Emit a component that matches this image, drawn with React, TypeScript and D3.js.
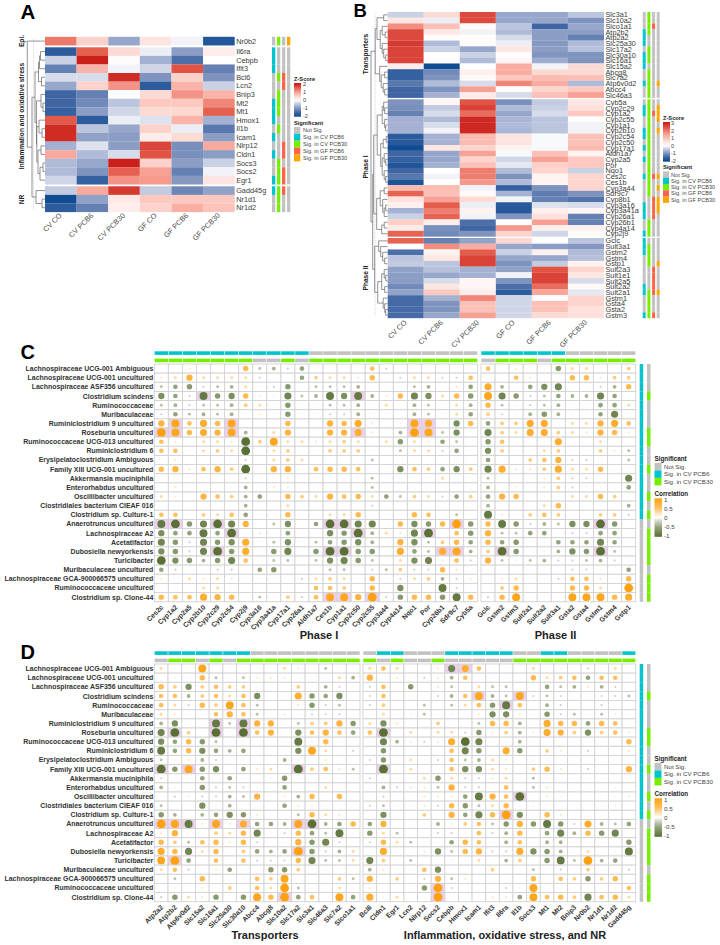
import React from "react";
import * as d3 from "d3";

const FONT = "'Liberation Sans', Arial, sans-serif";

// ---------- heatmap data ----------
const heatColumns = ["CV CO", "CV PCB6", "CV PCB30", "GF CO", "GF PCB6", "GF PCB30"];

const genesA = [
  ["Nr0b2"],
  ["Il6ra", "Cebpb", "Ifit3", "Bcl6", "Lcn2", "Bnip3", "Mt2", "Mt1", "Hmox1", "Il1b", "Icam1", "Nlrp12", "Cldn1", "Socs3", "Socs2", "Egr1"],
  ["Gadd45g", "Nr1d1", "Nr1d2"],
];
const zScoresA = [
  [1.3, 0.5, -0.8, 0.3, -0.1, -1.8],
  [-1.7, 1.5, 0.4, -0.15, -0.9, 0.2],
  [-0.4, 2.0, 0.05, -0.7, -1.4, 0],
  [-1.2, 0.8, -0.1, -0.35, 1.6, -1.2],
  [-0.3, -0.3, 1.9, -1.0, 0.5, -1.0],
  [-0.8, 0.5, 1.1, -1.7, 0.8, -0.4],
  [-1.5, -1.2, 0, 0.4, 1.1, 0.8],
  [-1.5, -1.1, -0.5, 0.6, 0.6, 1.2],
  [-1.6, -0.9, -0.35, 0.4, 0.45, 1.5],
  [1.55, -1.7, -0.15, -0.25, 0.8, -0.7],
  [1.9, -0.5, -0.8, 0.5, -0.15, -1.3],
  [1.9, -0.85, -0.9, 0.2, 0.4, -0.9],
  [-0.7, -0.25, -0.9, 1.7, -1.05, 0.9],
  [0.9, -0.6, -0.3, 1.6, -1.05, -0.9],
  [-0.6, -0.8, 2.0, 0.5, -0.9, -0.4],
  [-0.6, -1.0, 1.5, 1.0, -1.2, -0.1],
  [-0.35, -1.6, 1.1, 1.05, -0.95, 0.3],
  [-0.45, 0.9, 1.8, -0.45, -1.15, -0.85],
  [-2, -0.85, 0.25, 0.6, 0.6, 0.6],
  [-1.7, -1.2, 0.2, 0.5, 0.85, 0.65],
];
const sigA = ["0101", "1000", "1000", "1000", "0110", "0010", "0100", "1100", "1100", "1000", "0100", "1000", "0010", "1010", "0100", "0110", "1110", "1110", "0100", "0100"];
const treeA: any = [17.7, "Nr0b2", [13,
  [10,
    [6.5, [5.5, [4.5, "Il6ra", "Cebpb"], "Ifit3"], [3.5, "Bcl6", "Lcn2"]],
    [8.5, [4, "Bnip3", [2, "Mt2", "Mt1"]], [8.2, [6, "Hmox1", [3, "Il1b", "Icam1"]], [7, [4, "Nlrp12", "Cldn1"], [5, [2, "Socs3", "Socs2"], "Egr1"]]]]],
  [9, "Gadd45g", [3, "Nr1d1", "Nr1d2"]]]];

const genesB = [
  ["Slc3a1", "Slc10a2", "Slco1a1", "Atp2b2", "Atp2a2", "Slc25a30", "Slc17a2", "Slc30a10", "Slc16a1", "Slc15a2", "Abcg8", "Slc7a2", "Atp6v0d2", "Abcc4", "Slc46a3"],
  ["Cyb5a", "Cyp2c29", "Cyp1a2", "Cyp2c55", "Cyp1a1", "Cyp2b10", "Cyp2c54", "Cyp2c50", "Cyp17a1", "Aldh1a7", "Cyp2a5", "Por", "Nqo1", "Ces2c", "Ces1b", "Cyp3a44", "Sdr9c7", "Cyp8b1", "Cyp3a16", "Cyp3a41a", "Cyp26a1", "Cyp26b1", "Cyp4a14", "Cyp2j9"],
  ["Gclc", "Sult3a1", "Gstm2", "Gstm4", "Gstp1", "Sult2a3", "Sult1e1", "Sult2a5", "Sult2a2", "Sult2a1", "Gstm1", "Gsta4", "Gsta2", "Gstm3"],
];
const zScoresB = [
  [-0.4, 0.6, 2.5, -0.8, -0.8, -0.5],
  [0.4, -0.15, 2.5, -0.8, -0.8, -1.0],
  [1.7, 1.0, 0.1, -0.5, -1.5, -0.8],
  [2.5, 0.4, -0.1, -0.6, -0.9, -0.9],
  [2.5, 0.05, 0.05, -0.3, -0.9, -1.2],
  [2.7, -0.6, 0.05, -0.15, -0.95, -0.6],
  [2.6, -0.4, -0.8, 0.4, -0.9, -0.55],
  [2.6, 0.03, -0.4, 0.03, -1.0, -1.0],
  [2.6, 0.03, -0.6, 0.15, -0.75, -1.0],
  [0.3, -2.0, 0.0, 1.3, -0.1, 0.6],
  [-1.6, -1.1, 0.25, 1.3, 0.6, 0.6],
  [-1.6, -1.0, 0.1, 0.9, 1.1, 1.0],
  [-1.3, -0.6, -0.3, 1.8, 1.3, -0.6],
  [-1.5, -1.0, 1.5, 0.05, 0.7, 0.9],
  [-1.5, -0.7, 0.35, -0.3, 1.0, 1.5],
  [-1.0, 0.15, 2.4, -1.05, -0.45, 0.4],
  [-1.05, -0.45, 2.6, -0.6, -0.4, 0.5],
  [-1.2, -0.3, 2.1, -0.8, -0.3, 0.9],
  [-0.7, -0.6, 2.9, -0.65, -0.5, 0.05],
  [-0.7, -0.3, 2.9, -0.6, -0.5, -0.1],
  [-0.7, -0.1, 2.9, -0.65, -0.5, -0.1],
  [-1.7, -0.7, 1.1, 0.45, -0.05, 1.0],
  [-1.75, -0.7, 1.1, 0.45, -0.05, 1.0],
  [-2.0, 0.4, 0.7, 0.2, -0.05, 1.1],
  [-1.5, -0.8, 1.5, -0.05, 1.0, 0.2],
  [-1.6, -0.8, 0.7, -0.35, 1.5, 0.9],
  [-1.8, -0.7, 1.0, -0.2, 0.8, 0.9],
  [-1.5, 0.0, 1.9, -0.6, 0.7, -0.4],
  [-1.3, -0.1, 1.9, -1.0, 0.2, 0.7],
  [-1.85, 0.02, 1.6, -0.6, 0.2, 0.7],
  [1.1, 1.1, -0.1, -1.6, -1.0, 0.7],
  [2.2, 1.0, 0.1, -0.7, -1.25, -1.0],
  [0.5, 1.5, 0.6, -0.1, -1.2, -1.35],
  [0.25, 2.3, -0.15, -1.75, -0.25, -0.3],
  [-0.7, 1.9, 0.2, -1.75, 0.25, 0.15],
  [-0.4, 2.2, -0.1, -1.0, 0.5, -1.2],
  [0.8, 0.3, -1.4, 0.0, 1.5, -1.2],
  [0.35, -1.05, -1.5, 1.6, 0.25, 0.25],
  [2.2, -1.1, -1.0, 0.7, -0.35, 0.05],
  [2.2, -1.2, -0.85, 0.65, 0.02, -0.5],
  [0.0, 1.7, 1.3, -0.8, -0.9, -0.95],
  [-1.4, 0.2, 2.3, -0.4, 0.25, -0.6],
  [-0.5, 0.4, 2.6, -0.8, -0.8, -0.55],
  [-0.45, -0.5, 2.6, -1.0, -0.45, 0.2],
  [-0.85, -0.55, -0.7, -0.85, 2.4, 0.7],
  [-0.9, -0.8, -0.7, -0.1, 2.6, 0.4],
  [-0.9, -0.3, 0.15, -1.0, 2.6, -0.3],
  [-1.1, 0.4, 0.15, -1.4, 2.1, 0.1],
  [-0.85, 0.9, 0.3, -1.7, 1.4, -0.2],
  [-1.45, -0.7, 1.8, -0.35, 0.05, 0.7],
  [-1.45, -1.0, 1.0, -0.35, 1.0, 0.7],
  [-1.45, -1.0, 1.0, -0.35, 1.0, 0.5],
  [-1.45, -0.8, 1.5, -0.35, 0.6, 0.5],
];
const sigB = ["0100", "0100", "0110", "1100", "1000", "1000", "0100", "1100", "1100", "1000", "0100", "0100", "1101", "0100", "0100",
  "0100", "1101", "1111", "0101", "0100", "1101", "1100", "0100", "1100", "0100", "1100", "0100", "0100", "1111", "0100", "0101", "0100", "0011", "1011", "1011", "1010", "0100", "0100", "1100",
  "1000", "1100", "1100", "0100", "0101", "0010", "0010", "0010", "1010", "1111", "0100", "0100", "0100", "1110"];
const treeB: any = [16.7,
  [12.5,
    [10.7, [4, "Slc3a1", "Slc10a2"], [7.5, [5.5, "Slco1a1", [2.5, "Atp2b2", "Atp2a2"]], [5.5, "Slc25a30", [4, "Slc17a2", [2, "Slc30a10", "Slc16a1"]]]]],
    [8, "Slc15a2", [6.5, [3, "Abcg8", "Slc7a2"], [4.5, "Atp6v0d2", [3, "Abcc4", "Slc46a3"]]]]],
  [15,
    [14,
      [10.5, [5.5, [4, "Cyb5a", [3, "Cyp2c29", "Cyp1a2"]], [3, "Cyp2c55", [2, "Cyp1a1", "Cyp2b10"]]],
        [7, [4.5, [1.5, "Cyp2c54", "Cyp2c50"], "Cyp17a1"], [5.5, [3.5, "Aldh1a7", [2, "Cyp2a5", "Por"]], [3.5, "Nqo1", [2, "Ces2c", "Ces1b"]]]]],
      [11, [7.5, [3.5, "Cyp3a44", "Sdr9c7"], [5, "Cyp8b1", [3.5, [2, "Cyp3a16", "Cyp3a41a"], "Cyp26a1"]]], [6, [3.5, "Cyp26b1", "Cyp4a14"], "Cyp2j9"]]],
    [13,
      [9, "Gclc", [7, "Sult3a1", [5, "Gstm2", [3, "Gstm4", "Gstp1"]]]],
      [10, [6, [3.5, "Sult2a3", [2, "Sult1e1", "Sult2a5"]], [3, "Sult2a2", "Sult2a1"]], [4.5, "Gstm1", [3, "Gsta4", [2, "Gsta2", "Gstm3"]]]]]]];

// ---------- correlation data (tenths of r) ----------
const taxa = [
  "Lachnospiraceae UCG-001 Ambiguous", "Lachnospiraceae UCG-001 uncultured", "Lachnospiraceae ASF356 uncultured", "Clostridium scindens",
  "Ruminococcaceae", "Muribaculaceae", "Ruminiclostridium 9 uncultured", "Roseburia uncultured", "Ruminococcaceae UCG-013 uncultured",
  "Ruminiclostridium 6", "Erysipelatoclostridium Ambiguous", "Family XIII UCG-001 uncultured", "Akkermansia muciniphila", "Enterorhabdus uncultured",
  "Oscillibacter uncultured", "Clostridiales bacterium CIEAF 016", "Clostridium sp. Culture-1", "Anaerotruncus uncultured", "Lachnospiraceae A2",
  "Acetatifactor", "Dubosiella newyorkensis", "Turicibacter", "Muribaculaceae uncultured", "Lachnospiraceae GCA-900066575 uncultured",
  "Ruminococcaceae uncultured", "Clostridium sp. Clone-44",
];
const taxaSigPcb6 = "11111111111111111000000000";
const taxaSigPcb30 = "00010001100100101011110111";

const phase1Genes = ["Ces2c", "Cyp1a2", "Cyp2a5", "Cyp2b10", "Cyp2c29", "Cyp2c54", "Cyp2j9", "Cyp3a16", "Cyp3a41a", "Cyp17a1", "Cyp26a1", "Aldh1a7", "Ces1b", "Cyp1a1", "Cyp2c50", "Cyp2c55", "Cyp3a44", "Cyp4a14", "Nqo1", "Por", "Cyp26b1", "Sdr9c7", "Cyb5a"];
const phase1Pcb6 = "11111111111000000000000";
const phase1Pcb30 = "11111110010111111111111";
const phase1Corr = [
  [1, 0, 2, 0, 0, 0, 6, -3, -4, -2, -5, 1, 0, 0, 0, 5, -2, 0, 1, 0, 0, 0, 0],
  [2, 3, 7, 3, 3, 3, 3, -2, 1, 1, -5, 4, 3, 3, 2, 6, 1, -2, 3, 3, -2, -2, 5],
  [-3, -5, -6, -2, -3, -4, 3, 1, -2, -6, 0, -3, -3, -3, -4, 0, 0, 1, -3, -4, 0, 2, -5],
  [-7, -5, -2, -9, -6, -7, 6, 2, -1, -8, -3, -4, -9, -7, -9, -4, 2, 6, -8, -7, 3, 6, -6],
  [-3, -4, -2, -3, -3, -4, 4, 3, 0, -6, 0, 0, -3, -3, -4, 0, 3, 0, -4, -3, 0, 3, -4],
  [-2, -5, -3, -4, -3, -4, 0, 2, 0, -6, 0, 0, -2, -2, -4, 0, 0, 0, -4, -3, 0, 3, -5],
  [7, 9, 5, 8, 6, 9, 0, 0, 0, 6, 0, 0, 7, 6, 8, 2, 0, -1, 9, 8, -1, -7, 6],
  [10, 9, 6, 8, 7, 9, -4, 0, 3, 7, 0, 0, 7, 7, 8, 2, 0, -4, 10, 9, -3, -7, 0],
  [5, 2, 0, 3, 3, 2, -10, 4, 9, 3, 3, 2, 3, 4, 3, 0, 3, -6, 3, 2, -5, -3, 0],
  [5, 5, 1, 3, 4, 3, -10, 0, 3, 4, 0, 1, 4, 4, 4, 1, 0, -3, 3, 3, -2, -5, 1],
  [0, 2, 0, 0, 1, 1, -2, 1, 3, 4, 3, 0, 0, 0, 1, -3, 1, 0, 1, 1, 1, 1, 0],
  [6, 7, 2, 5, 7, 4, -10, 0, 7, 7, 1, 5, 6, 6, 5, 0, 0, -7, 5, 4, -5, -7, 4],
  [0, 1, 0, 0, 0, 0, -2, 1, 1, 2, 1, 0, 0, 0, 0, -3, 1, 1, 0, 0, 3, 0, 0],
  [1, 2, 0, 0, 0, 1, -4, 0, 2, 2, 0, 1, 0, 0, 0, -3, 1, 0, 0, 0, 1, 0, 0],
  [3, 2, 0, 7, 5, 4, -4, -5, 1, 6, 4, 3, 7, 5, 6, 3, -5, -3, 4, 3, -2, -5, 4],
  [0, 1, 0, 0, 0, 0, -4, 0, 1, 3, 1, 0, 0, 0, 0, -2, 0, 0, 0, 0, 0, 0, 0],
  [5, 5, 1, 4, 3, 5, -5, 1, 0, 6, 0, 0, 3, 3, 6, 0, 1, 1, 6, 5, 0, -3, 1],
  [-9, -10, -6, -8, -10, -8, 7, 1, -3, -7, 1, -5, -10, -10, -8, -8, 0, 6, -7, -6, 6, 10, -6],
  [-7, -5, -5, -9, -5, -10, 1, 2, 0, -5, 0, 1, -7, -6, -10, -4, 3, 2, -8, -10, 1, 5, -6],
  [-8, -6, -2, -8, -6, -7, 8, 0, -3, -7, 0, -3, -5, -6, -7, -4, 1, 7, -7, -3, 4, 6, -5],
  [-7, -6, -2, -8, -10, -6, 8, 0, -6, -8, 0, -6, -10, -10, -6, -6, 1, 8, -5, -3, 8, 9, -4],
  [-10, -7, -6, -4, -6, -8, 5, 0, -3, -3, 1, -3, -7, -8, -6, -3, 0, 3, -7, -8, 2, 5, -2],
  [-5, -2, 1, 1, -2, -2, 1, -5, -6, 0, 0, 0, -3, -3, 1, -2, -3, 4, -2, -2, 6, 2, 0],
  [2, 1, 3, 2, 3, 2, 1, 1, 0, 0, -2, 3, 4, 3, 1, 6, -1, -2, 3, 4, -4, -2, 2],
  [1, 0, 0, 3, 3, 1, 0, 0, 0, 1, 0, 5, 5, 4, 1, 6, 0, -7, 1, 1, -9, -2, 1],
  [6, 5, 5, 8, 7, 6, 0, -3, 0, 4, -2, 5, 9, 9, 7, 10, -2, -6, 6, 6, -6, -9, 6],
];
const phase1Marked: [number, string][] = [[3, "Cyp2b10"], [3, "Cyp2c50"], [6, "Cyp1a2"], [6, "Cyp2c54"], [7, "Ces2c"], [7, "Cyp1a2"], [7, "Cyp2c54"], [7, "Cyp2c50"], [17, "Ces2c"], [17, "Cyp1a2"], [17, "Cyp2c29"], [17, "Ces1b"], [17, "Cyp1a1"], [18, "Cyp2c54"], [18, "Cyp2c50"], [20, "Cyp2c29"], [20, "Ces1b"], [20, "Cyp1a1"], [25, "Ces1b"], [25, "Cyp1a1"], [25, "Cyp2c55"], [6, "Nqo1"], [6, "Por"], [7, "Nqo1"], [7, "Por"], [17, "Sdr9c7"], [18, "Por"], [20, "Cyp26b1"], [20, "Sdr9c7"]];

const phase2Genes = ["Gclc", "Gstm2", "Gstm3", "Sult2a1", "Sult2a2", "Sult3a1", "Gsta2", "Gsta4", "Gstm1", "Gstm4", "Gstp1"];
const phase2Pcb6 = "11111100000";
const phase2Pcb30 = "01110111111";
const phase2Corr = [
  [5, 0, 2, 0, 1, -6, 3, 3, 0, 0, 4],
  [0, 1, 5, 2, 1, 1, 6, 6, 2, 4, 4],
  [8, -4, 0, -5, -7, -8, 0, 0, -2, -4, 6],
  [9, -8, -6, -2, -3, -5, -4, -4, -8, -5, 1],
  [6, -3, -1, -2, -3, -4, 0, 0, -5, -5, 3],
  [4, -2, -1, -4, -6, -4, -1, -1, -5, -8, 0],
  [-5, 4, 4, 8, 8, 1, 3, 3, 7, 8, 5],
  [-8, 4, 3, 8, 8, 4, 3, 2, 7, 6, 2],
  [-6, 5, 1, 0, 1, 8, 0, 0, 3, 0, 0],
  [-7, 4, 1, 1, 3, 4, 1, 1, 4, 2, -3],
  [-5, 1, 1, 4, 5, 7, -2, -2, 1, 1, -3],
  [-8, 8, 2, 2, 4, 8, 3, 3, 6, 0, 0],
  [-3, 0, 1, 1, 2, 4, -2, -2, 1, 1, -8],
  [-4, 0, -1, 1, 2, 4, -2, -1, 1, 0, -5],
  [-5, 7, 6, 0, 1, 1, 3, 3, 6, 4, 1],
  [-4, 1, 0, 1, 3, 6, 1, 1, 1, 0, -4],
  [-9, 2, 1, 4, 5, 4, 0, 0, 4, 4, -2],
  [6, -9, -6, -2, -4, -3, -7, -7, -10, -6, 0],
  [7, -3, -3, -5, -5, 0, -2, -2, -5, -5, 1],
  [6, -5, -6, 0, -1, -5, -5, -5, -8, -5, 1],
  [4, -10, -6, 1, -1, -4, -7, -6, -10, -3, 0],
  [7, -3, -1, -3, -4, -2, -2, -3, -4, -2, 0],
  [0, 1, 0, 1, 0, 0, -2, -2, 1, 0, -5],
  [0, 2, 3, 0, 1, -2, 5, 5, 2, 1, 6],
  [0, 4, 6, 0, 1, 0, 6, 6, 3, 0, 10],
  [-2, 6, 9, 1, 1, 0, 9, 9, 9, 6, 8],
];
const phase2Marked: [number, string][] = [[17, "Gstm1"], [20, "Gstm2"], [20, "Gstm1"]];

const transGenes = ["Atp2a2", "Atp2b2", "Atp6v0d2", "Slc15a2", "Slc16a1", "Slc25a30", "Slc30a10", "Abcc4", "Abcg8", "Slc10a2", "Slc17a2", "Slc3a1", "Slc46a3", "Slc7a2", "Slco1a1"];
const transPcb6 = "111111100000000";
const transPcb30 = "011010111111111";
const transCorr = [
  [3, 0, 1, 9, 0, 0, 0, 1, 0, 3, 2, 1, -3, 1, 1],
  [0, -1, 1, 6, -3, 0, -3, 2, 2, 2, 0, 0, 0, 3, -4],
  [6, 4, -7, 4, 5, 4, 4, -1, 0, 1, 4, -1, -4, -2, 1],
  [5, 5, -4, 4, 5, 3, 5, -7, 0, -1, 8, -6, -5, -7, 0],
  [5, 3, -2, 6, 4, 9, 5, -3, 0, 0, 2, -6, -2, -3, 0],
  [3, 2, 0, 1, 5, 7, 5, -3, 0, 2, 1, -2, -2, -2, 0],
  [-4, -7, 1, 0, -9, -3, -9, 7, 7, 1, -3, 4, 4, 7, -6],
  [-8, -10, 4, 0, -10, -1, -10, 5, 7, 1, -7, 5, 7, 5, -5],
  [-7, -5, 6, -6, -3, 1, -1, 0, 1, 0, -9, 2, 6, 0, 0],
  [-9, -5, 6, -7, -5, -4, -5, 1, 0, 0, -7, 9, 3, 1, -2],
  [-3, -1, 2, -4, -2, -1, -1, 0, 0, -4, 1, 0, 2, 0, 0],
  [-10, -6, 9, -6, -7, 0, -5, 2, 3, 0, -10, 4, 5, 2, -3],
  [-2, 0, 0, -5, 0, -5, 0, 0, -1, -6, 0, 0, 0, 0, 0],
  [-4, -1, 1, -6, -2, -3, -2, 1, 0, -5, 1, 0, 3, 0, 0],
  [1, -2, 2, -2, -2, -4, -3, 7, 0, 2, -4, 6, 0, 6, 0],
  [-3, 0, 0, -7, -1, -4, 0, 0, 0, -5, 2, 2, 1, 0, 0],
  [-6, -4, 0, -4, -5, -7, -6, 2, 1, 1, -3, 6, 3, 2, 1],
  [10, 9, -9, 2, 9, 2, 8, -5, -5, -4, 9, -10, -4, -5, 6],
  [2, 7, -1, 0, 4, 3, 6, -8, -1, -2, 6, -5, -3, -9, 1],
  [6, 4, -3, 5, 6, 2, 6, -2, 0, 0, 7, -6, -8, -2, 0],
  [8, 6, -8, 3, 6, 0, 4, -5, -4, -5, 10, -6, -2, -4, 3],
  [9, 10, -5, 0, 5, 1, 5, -2, -2, -2, 6, -8, -3, -3, 3],
  [3, 5, -2, 0, 2, -5, 1, 0, -6, -6, 4, 1, -1, 0, 0],
  [0, -3, 1, 6, -1, 1, -1, 5, 4, 9, 1, 0, 0, 4, -3],
  [0, -1, 1, 2, 1, 4, 0, 5, 3, 10, -3, 0, 0, 3, 1],
  [-2, -6, 3, 2, -6, 0, -6, 9, 6, 10, -5, 5, 0, 9, -5],
];
const transMarked: [number, string][] = [[6, "Slc16a1"], [6, "Slc30a10"], [7, "Atp2b2"], [7, "Slc16a1"], [7, "Slc30a10"], [11, "Atp2a2"], [11, "Atp6v0d2"], [11, "Slc17a2"], [17, "Atp2a2"], [17, "Atp2b2"], [17, "Atp6v0d2"], [17, "Slc16a1"], [17, "Slc30a10"], [17, "Slc17a2"], [17, "Slc3a1"], [20, "Slc17a2"], [21, "Atp2b2"], [25, "Slc10a2"]];

const inflGenes = ["Bcl6", "Cldn1", "Egr1", "Lcn2", "Nlrp12", "Socs2", "Cebpb", "Hmox1", "Icam1", "Ifit3", "Il6ra", "Il1b", "Socs3", "Mt1", "Mt2", "Bnip3", "Nr0b2", "Nr1d1", "Nr1d2", "Gadd45g"];
const inflPcb6 = "01100011111001100001";
const inflPcb30 = "10100100000111111111";
const inflCorr = [
  [3, 5, 3, 1, 0, 2, -8, 8, 5, 0, -1, 0, 3, 0, 1, 1, -2, 1, 3, 0],
  [7, 0, 2, 1, -2, 2, -4, 5, 0, 0, 0, 0, 6, 3, 4, 5, -5, 5, 5, 0],
  [-2, 5, 0, -6, 0, 2, -3, 1, 3, -3, -3, 0, 0, -5, -3, -4, 2, -4, -2, 0],
  [-2, 5, 0, 0, 0, -2, -4, 5, 9, -4, -3, 9, -2, -3, -2, 1, 1, -2, -2, -3],
  [-2, 4, 0, 0, -3, 1, -3, 3, 5, -6, -9, 5, 0, -4, -2, 1, 1, -2, 1, 0],
  [0, 3, 0, -1, -3, 0, -1, 1, 2, -7, -7, 2, 0, -6, -2, -3, 0, -3, -1, 0],
  [3, -7, 2, 0, 0, 4, 0, 0, -3, 6, 6, -4, 1, 8, 6, 6, -5, 6, 5, 0],
  [5, -10, 1, 3, 0, 3, 3, -2, -6, 2, 4, -4, 2, 8, 7, 4, -7, 4, 5, 2],
  [0, -8, -4, 2, -2, 2, 8, -10, -8, 0, 0, -4, 1, 0, 0, 0, 0, 0, 0, 6],
  [0, -6, -1, 0, 0, 0, 5, -8, -6, 1, 8, -6, 0, 4, 2, 0, -2, 1, 0, 2],
  [-2, -6, 1, 3, 1, -2, 5, -3, -4, 3, 2, 0, -1, 0, 0, 1, 0, 0, 0, 0],
  [1, -10, -1, 3, 0, 1, 5, -7, -7, 3, 2, 0, 4, 6, 2, 0, -2, 0, 0, 7],
  [-2, -1, 0, 1, 3, -6, 3, -2, -2, 2, 3, 0, -3, 1, 0, 0, 0, 0, 0, 0],
  [1, -4, -2, 2, 2, -3, 7, -2, -2, 0, 5, 0, -3, 2, 0, 0, 0, 0, -1, 0],
  [0, -2, 1, 1, 2, 2, 2, -5, -9, 7, 5, -10, 0, 2, 1, 1, 1, 1, 1, 2],
  [-2, -3, 1, 1, 2, -2, 6, -6, -3, 3, 6, 1, -1, 0, 0, 0, 0, 0, -1, 0],
  [0, -7, 1, 0, 4, 0, 7, -5, -8, 6, 10, -7, 0, 6, 2, 1, 1, 1, 0, 0],
  [-5, 7, 0, 1, 1, -4, 2, 4, 5, -3, -6, 7, -6, -9, -6, -2, 8, -4, -3, -5],
  [-6, 3, -3, 1, 0, -2, -2, 1, 5, -2, -4, 6, 1, -5, -8, -4, 6, -6, -8, 0],
  [-2, 6, 3, -3, 1, 1, -5, 6, 5, 1, -4, 5, 0, -4, -4, 1, 1, 0, 0, -6],
  [1, 8, 0, 0, 2, -7, -3, 6, 7, -2, -2, 8, -7, -6, -4, 1, 3, 0, 1, -9],
  [-8, 4, 1, -3, 0, 0, -1, 1, 3, 0, -4, 4, 0, -6, -9, -3, 10, -4, -5, 0],
  [-4, 2, 0, 1, 5, -7, 0, 0, 0, 4, 0, 0, -3, 0, -2, 0, 4, 0, 1, -2],
  [7, 1, 4, 0, -2, 7, -3, 2, 0, 0, 0, 0, 6, 1, 5, 4, -6, 4, 6, 0],
  [2, 0, 1, -1, -6, 10, -2, 0, 0, 0, -2, -1, 9, 0, 0, 0, 1, 0, 1, 5],
  [8, -1, 3, 0, 1, 10, 1, 1, -1, 2, 2, -5, 9, 5, 6, 4, -8, 5, 6, 3],
];
const inflMarked: [number, string][] = [[0, "Cebpb"], [0, "Hmox1"], [3, "Icam1"], [3, "Il1b"], [4, "Il6ra"], [7, "Cldn1"], [11, "Cldn1"], [14, "Il1b"], [16, "Il6ra"], [24, "Socs2"], [25, "Socs2"]];

const zTicksA = [2, 1, 0, -1, -2];
const zTicksB = [3, 2, 1, 0, -1, -2];
const corrTicks = [1, 0.5, 0, -0.5, -1];
const sigLabels4 = ["Not Sig.", "Sig. in CV PCB6", "Sig. in CV PCB30", "Sig. in GF PCB6", "Sig. in GF PCB30"];
const sigLabels2 = ["Not Sig.", "Sig. in CV PCB6", "Sig. in CV PCB30"];

// ---------- colours ----------
const GREY = "#c2c2c2";
const sigColors = ["#00c5cd", "#76ee00", "#ff6347", "#ffa500"];
const sigLegendColors = [GREY, ...sigColors];
const heatStops = ["#0f4c92", "#3f66a3", "#7f93bf", "#bcc5de", "#ffffff", "#fdd2cb", "#f7a093", "#e5604f", "#cb1f1c"];
const heatDomain = (mx: number) => [-2, -1.5, -1, -0.5, 0, mx / 4, mx / 2, (3 * mx) / 4, mx];
const dotColor = d3.scaleLinear<string>()
  .domain([-1, -0.5, -0.2, 0, 0.2, 0.5, 1])
  .range(["#5a7035", "#93a37b", "#cbd3c0", "#ffffff", "#ffe6bf", "#ffc060", "#ffa00f"]);

function Gradient({ id, scale, lo, hi }: any) {
  const stops = d3.range(0, 1.0001, 0.05);
  return (
    <linearGradient id={id} x1="0" y1="0" x2="0" y2="1">
      {stops.map((t: number) => <stop key={t} offset={t} stopColor={scale(hi + (lo - hi) * t)} />)}
    </linearGradient>
  );
}

function Dendro({ tree, rowMid, xOf }: any) {
  const p = d3.path();
  const walk = (n: any): { x: number; y: number } => {
    if (typeof n === "string") return { x: xOf(0), y: rowMid(n) };
    const [h, ...kids] = n;
    const pts = kids.map(walk);
    const x = xOf(h);
    const ys = pts.map((q: any) => q.y);
    p.moveTo(x, d3.min(ys) as number);
    p.lineTo(x, d3.max(ys) as number);
    pts.forEach((q: any) => { p.moveTo(x, q.y); p.lineTo(q.x, q.y); });
    return { x, y: ((d3.min(ys) as number) + (d3.max(ys) as number)) / 2 };
  };
  walk(tree);
  return <path d={p.toString()} fill="none" stroke="#666" strokeWidth={0.7} />;
}

function HeatPanel({ groups, values, sig, tree, x0, x1, groupTops, rowH, mx, labelSize, sigX, sigW, dotX, groupLabels, labelEnd, labelX, dendroMax, dendroX0 }: any) {
  const genes: string[] = groups.flat();
  const xs = d3.scaleBand().domain(heatColumns).range([x0, x1]);
  const colour = d3.scaleLinear<string>().domain(heatDomain(mx)).range(heatStops);
  const yMap = new Map<string, number>();
  groups.forEach((g: string[], gi: number) => g.forEach((name, i) => yMap.set(name, groupTops[gi] + i * rowH)));
  const xOf = d3.scaleLinear().domain([0, dendroMax]).range([dendroX0, dendroX0 - dendroMax]);
  const top = groupTops[0];
  const bottom = groupTops[groups.length - 1] + groups[groups.length - 1].length * rowH;
  return (
    <g>
      <line x1={dotX} x2={dotX} y1={top + 2} y2={bottom - 2} stroke="#d6d6d6" strokeWidth={1} strokeDasharray="1 1" />
      <Dendro tree={tree} rowMid={(n: string) => (yMap.get(n) as number) + rowH / 2} xOf={xOf} />
      {genes.map((g, r) => {
        const y = yMap.get(g) as number;
        return (
          <g key={g}>
            {heatColumns.map((c, ci) => (
              <rect key={c} x={xs(c)} y={y} width={xs.bandwidth()} height={rowH + 0.1} fill={colour(values[r][ci])} />
            ))}
            <text x={x1 + 1.5} y={y + rowH / 2} dy="0.36em" fontSize={labelSize} fill="#3a3a3a">{g}</text>
            {sig[r].split("").map((s: string, k: number) => (
              <rect key={k} x={sigX[k]} y={y} width={sigW} height={rowH + 0.1} fill={s === "1" ? sigColors[k] : GREY} />
            ))}
          </g>
        );
      })}
      {heatColumns.map((c) => (
        <text key={c} transform={`translate(${(xs(c) as number) + xs.bandwidth() / 2 + 1.5},${labelEnd}) rotate(-45)`} textAnchor="end" fontSize={labelSize} fill="#4a4a4a">{c}</text>
      ))}
      {groupLabels.map((l: any) => (
        <text key={l.t} transform={`translate(${labelX},${l.y}) rotate(-90)`} textAnchor="middle" fontSize={6.6} fontWeight="bold" fill="#222">{l.t}</text>
      ))}
    </g>
  );
}

function SigLegend({ x, y, labels, colors, step, swatchW, size, textX, title }: any) {
  return (
    <g>
      <text x={x} y={y} fontSize={title} fontWeight="bold" fill="#222">Significant</text>
      {labels.map((l: string, i: number) => (
        <g key={l}>
          <rect x={x} y={y + 2.4 + i * step} width={swatchW} height={step} fill={colors[i]} />
          <text x={textX} y={y + 2.4 + (i + 0.5) * step} dy="0.36em" fontSize={size} fill="#444">{l}</text>
        </g>
      ))}
    </g>
  );
}

function ColorBar({ x, y, w, h, grad, title, ticks, lo, hi, size, titleSize, textX }: any) {
  const s = d3.scaleLinear().domain([hi, lo]).range([y + 1, y + h - 1]);
  return (
    <g>
      <text x={x} y={y - 2.5} fontSize={titleSize} fontWeight="bold" fill="#222">{title}</text>
      <rect x={x} y={y} width={w} height={h} fill={`url(#${grad})`} />
      {ticks.map((t: number) => (
        <text key={t} x={textX} y={s(t)} dy="0.36em" fontSize={size} fill="#444">{t}</text>
      ))}
    </g>
  );
}

function DotBlock({ genes, corr, marked, pcb6, pcb30, x0, x1, top, bottom, bar1, bar2 }: any) {
  const xs = d3.scaleBand().domain(genes).range([x0, x1]);
  const ys = d3.scaleBand().domain(taxa).range([top, bottom]);
  const rScale = d3.scaleLinear().domain([0, 1]).range([0.25, 4.4]);
  const w = xs.bandwidth();
  const h = ys.bandwidth();
  const markSet = new Set(marked.map((m: any) => `${m[0]}|${m[1]}`));
  return (
    <g>
      {genes.map((g: string, ci: number) => (
        <g key={g}>
          <rect x={(xs(g) as number) + 0.3} y={bar1} width={w - 0.6} height={3.6} fill={pcb6[ci] === "1" ? sigColors[0] : GREY} />
          <rect x={(xs(g) as number) + 0.3} y={bar2} width={w - 0.6} height={3.6} fill={pcb30[ci] === "1" ? sigColors[1] : GREY} />
          {taxa.map((t, r) => {
            const v = corr[r][ci] / 10;
            const cx = (xs(g) as number) + w / 2;
            const cy = (ys(t) as number) + h / 2;
            return (
              <g key={t}>
                <rect x={xs(g)} y={ys(t)} width={w} height={h} fill={markSet.has(`${r}|${g}`) ? "#ecd0ec" : "#fff"} stroke="#d2d2d2" strokeWidth={0.9} />
                {v !== 0 && <circle cx={cx} cy={cy} r={rScale(Math.abs(v))} fill={dotColor(v)} />}
              </g>
            );
          })}
          <text transform={`translate(${(xs(g) as number) + w / 2 + 2.5},${bottom + 6}) rotate(-45)`} textAnchor="end" fontSize={6.9} fontWeight="bold" fill="#333">{g}</text>
        </g>
      ))}
    </g>
  );
}

function DotPanel({ offset, blocks, titles }: any) {
  const top = 364 + offset;
  const bottom = 601.7 + offset;
  const ys = d3.scaleBand().domain(taxa).range([top, bottom]);
  const h = ys.bandwidth();
  return (
    <g>
      {taxa.map((t, r) => (
        <g key={t}>
          <text x={153.3} y={(ys(t) as number) + h / 2} dy="0.36em" textAnchor="end" fontSize={6.95} fontWeight="bold" fill="#333">{t}</text>
          <rect x={639.7} y={ys(t)} width={3.5} height={h + 0.1} fill={taxaSigPcb6[r] === "1" ? sigColors[0] : GREY} />
          <rect x={647} y={ys(t)} width={3.5} height={h + 0.1} fill={taxaSigPcb30[r] === "1" ? sigColors[1] : GREY} />
        </g>
      ))}
      {blocks.map((b: any) => (
        <DotBlock key={b.genes[0]} {...b} top={top} bottom={bottom} bar1={351.3 + offset} bar2={358.6 + offset} />
      ))}
      {titles.map((t: any) => (
        <text key={t.t} x={t.x} y={639 + offset} textAnchor="middle" fontSize={11} fontWeight="bold" fill="#222">{t.t}</text>
      ))}
      <SigLegend x={654.5} y={460.5 + offset} labels={sigLabels2} colors={sigLegendColors} step={7.5} swatchW={7} size={6.2} textX={664} title={6.3} />
      <ColorBar x={654.5} y={498.3 + offset} w={7.5} h={38.5} grad="gradCorr" title="Correlation" ticks={corrTicks} lo={-1} hi={1} size={6.2} titleSize={6.3} textX={664} />
    </g>
  );
}

export default function App() {
  const scaleA = d3.scaleLinear<string>().domain(heatDomain(2)).range(heatStops);
  const scaleB = d3.scaleLinear<string>().domain(heatDomain(3)).range(heatStops);
  return (
    <svg width={720} height={945} viewBox="0 0 720 945" style={{ position: "absolute", left: 0, top: 0, display: "block", background: "#fff" }} fontFamily={FONT}>
      <defs>
        <Gradient id="gradA" scale={scaleA} lo={-2} hi={2.1} />
        <Gradient id="gradB" scale={scaleB} lo={-2.1} hi={3.1} />
        <Gradient id="gradCorr" scale={dotColor} lo={-1} hi={1} />
      </defs>

      <text x={20.5} y={18.5} fontSize={20.5} fontWeight="bold" fill="#000">A</text>
      <text x={353.5} y={16.5} fontSize={18.5} fontWeight="bold" fill="#000">B</text>
      <text x={20.5} y={358.5} fontSize={20} fontWeight="bold" fill="#000">C</text>
      <text x={20.5} y={658.5} fontSize={20} fontWeight="bold" fill="#000">D</text>

      <HeatPanel groups={genesA} values={zScoresA} sig={sigA} tree={treeA} x0={45} x1={234.7} groupTops={[36.8, 47.3, 186.3]} rowH={8.57} mx={2} labelSize={7.3}
        sigX={[272, 277, 282, 287]} sigW={3.3} dotX={33.5} labelEnd={216} labelX={24}
        groupLabels={[{ t: "Epi.", y: 41 }, { t: "Inflammation and oxidative stress", y: 116 }, { t: "NR", y: 199.5 }]} dendroMax={17.7} dendroX0={45} />
      <ColorBar x={294} y={83} w={7} h={33.7} grad="gradA" title="Z-Score" ticks={zTicksA} lo={-2} hi={2} size={5.6} titleSize={5.7} textX={303} />
      <SigLegend x={294} y={124.5} labels={sigLabels4} colors={sigLegendColors} step={6.9} swatchW={6.3} size={5.6} textX={303} title={5.7} />

      <HeatPanel groups={genesB} values={zScoresB} sig={sigB} tree={treeB} x0={387.7} x1={604} groupTops={[12, 99.3, 238]} rowH={5.72} mx={3} labelSize={7.3}
        sigX={[642.7, 647.4, 652.1, 656.7]} sigW={3} dotX={375} labelEnd={323} labelX={367.5}
        groupLabels={[{ t: "Transporters", y: 54 }, { t: "Phase I", y: 167 }, { t: "Phase II", y: 278 }]} dendroMax={16.7} dendroX0={387.7} />
      <ColorBar x={663} y={122} w={7} h={39.7} grad="gradB" title="Z-Score" ticks={zTicksB} lo={-2} hi={3} size={5.6} titleSize={5.7} textX={671} />
      <SigLegend x={663} y={169} labels={sigLabels4} colors={sigLegendColors} step={6.3} swatchW={6} size={5.6} textX={671} title={5.7} />

      <DotPanel offset={0}
        blocks={[
          { genes: phase1Genes, corr: phase1Corr, marked: phase1Marked, pcb6: phase1Pcb6, pcb30: phase1Pcb30, x0: 154.3, x1: 477.7 },
          { genes: phase2Genes, corr: phase2Corr, marked: phase2Marked, pcb6: phase2Pcb6, pcb30: phase2Pcb30, x0: 481, x1: 635.7 },
        ]}
        titles={[{ t: "Phase I", x: 319 }, { t: "Phase II", x: 555.5 }]} />
      <DotPanel offset={300}
        blocks={[
          { genes: transGenes, corr: transCorr, marked: transMarked, pcb6: transPcb6, pcb30: transPcb30, x0: 154.3, x1: 360 },
          { genes: inflGenes, corr: inflCorr, marked: inflMarked, pcb6: inflPcb6, pcb30: inflPcb30, x0: 363, x1: 635.7 },
        ]}
        titles={[{ t: "Transporters", x: 265 }, { t: "Inflammation, oxidative stress, and NR", x: 505 }]} />
    </svg>
  );
}
